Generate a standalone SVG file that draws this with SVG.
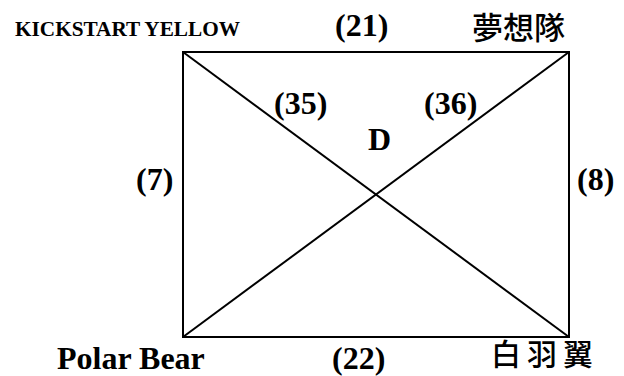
<svg xmlns="http://www.w3.org/2000/svg" width="624" height="376" viewBox="0 0 624 376">
<style>
.t{font-family:"Liberation Serif","Times New Roman",serif;font-weight:bold;fill:#000}
.c{font-family:"Noto Sans CJK TC","Noto Sans CJK SC",sans-serif;font-weight:500;fill:#000}
.l{stroke:#000;stroke-width:2;fill:none}
</style>
<rect width="624" height="376" fill="#fff"/>
<g id="connectors">
<rect class="l" x="183" y="52" width="386" height="285"/>
<line class="l" x1="183" y1="52" x2="569" y2="337"/>
<line class="l" x1="569" y1="52" x2="183" y2="337"/>
</g>
<g id="labels">
<text class="t" x="15" y="36" font-size="22" textLength="225" lengthAdjust="spacingAndGlyphs">KICKSTART YELLOW</text>
<text class="t" x="335" y="36" font-size="32">(21)</text>
<text class="c" x="472" y="39" font-size="31">夢想隊</text>
<text class="t" x="274" y="114" font-size="32">(35)</text>
<text class="t" x="424" y="114" font-size="32">(36)</text>
<text class="t" x="368" y="150" font-size="32">D</text>
<text class="t" x="136" y="190" font-size="32">(7)</text>
<text class="t" x="577" y="190" font-size="32">(8)</text>
<text class="t" x="57" y="369" font-size="32">Polar Bear</text>
<text class="t" x="332" y="369" font-size="32">(22)</text>
<text class="c" x="491" y="365" font-size="30" letter-spacing="6">白羽翼</text>
</g>
</svg>
